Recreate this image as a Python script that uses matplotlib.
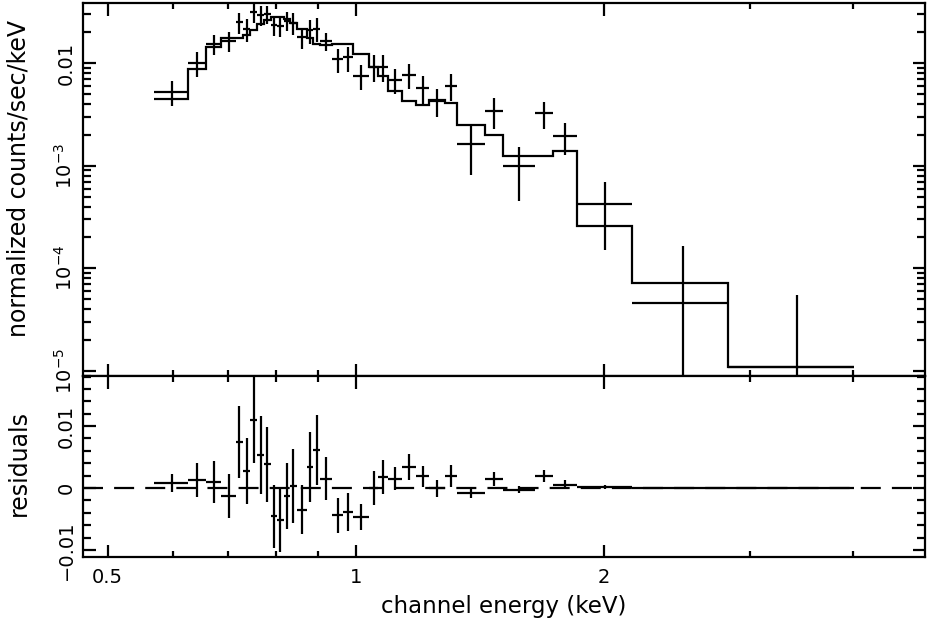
# XSPEC style spectrum: data + folded model (top) and residuals (bottom)

import numpy as np
import matplotlib
matplotlib.use("Agg")
import matplotlib.pyplot as plt
from matplotlib.ticker import FixedLocator, NullFormatter, MultipleLocator, LogLocator

# Channel bin edges (keV)
edges = [0.5690, 0.6266, 0.6580, 0.6861, 0.7154, 0.7295, 0.7445, 0.7592, 0.7735,
         0.7881, 0.8028, 0.8173, 0.8311, 0.8474, 0.8729, 0.8877, 0.9045, 0.9360,
         0.9652, 0.9925, 1.0378, 1.0642, 1.0943, 1.1360, 1.1822, 1.2270, 1.2820,
         1.3245, 1.4334, 1.5060, 1.6467, 1.7344, 1.8516, 2.1585, 2.8266, 4.0181]

# normalized counts/sec/keV
counts = [0.00528, 0.01014, 0.01533, 0.0165, 0.0251, 0.0215, 0.0319, 0.0296, 0.0303,
          0.0235, 0.0231, 0.0260, 0.0249, 0.0179, 0.0211, 0.0217, 0.0165, 0.0109,
          0.0114, 0.00752, 0.00927, 0.00927, 0.00687, 0.00769, 0.00578, 0.00432,
          0.00605, 0.00163, 0.00342, 0.000995, 0.00325, 0.00195, 0.000424,
          4.62e-5, 1.10e-5]

counts_err = [0.00144, 0.00273, 0.00342, 0.00355, 0.00578, 0.00532, 0.00694, 0.00629,
              0.0061, 0.00516, 0.00517, 0.00533, 0.00595, 0.00397, 0.0056, 0.00567,
              0.00343, 0.00282, 0.00312, 0.00207, 0.0027, 0.0027, 0.00185, 0.00207,
              0.00174, 0.00133, 0.00174, 0.00082, 0.00116, 0.000544, 0.00098,
              0.00067, 0.000274, 0.000119, 4.4e-5]

model = [0.00446, 0.00880, 0.01433, 0.0178, 0.0177, 0.0188, 0.0209, 0.0242, 0.0265,
         0.0281, 0.0283, 0.0273, 0.0246, 0.0214, 0.0177, 0.0155, 0.0150, 0.0153,
         0.0153, 0.0122, 0.0093, 0.0075, 0.0054, 0.0043, 0.0039, 0.0044, 0.0041,
         0.0025, 0.0020, 0.00125, 0.00125, 0.0014, 0.00026, 7.24e-5, 1.10e-5]

edges = np.array(edges)
counts = np.array(counts)
counts_err = np.array(counts_err)
model = np.array(model)

lo = edges[:-1]
hi = edges[1:]
energy = (lo + hi) / 2
xerr = [energy - lo, hi - energy]
resid = counts - model

# error bars that go below zero are clipped on the log axis
err_low = np.minimum(counts_err, counts - 1e-9)

fig = plt.figure(figsize=(9.28, 6.25), dpi=100)
ax1 = fig.add_axes([0.0894, 0.3984, 0.9073, 0.5973])
ax2 = fig.add_axes([0.0894, 0.1093, 0.9073, 0.2891], sharex=ax1)

lw = 1.6

# Top panel
ax1.errorbar(energy, counts, xerr=xerr, yerr=[err_low, counts_err],
             fmt="none", ecolor="black", elinewidth=lw, capsize=0)
ax1.stairs(model, edges, baseline=None, color="black", linewidth=lw)
ax1.set_xscale("log")
ax1.set_yscale("log")
ax1.set_xlim(0.4668, 4.894)
ax1.set_ylim(8.9e-6, 0.039)

ax1.set_yticks([1e-5, 1e-4, 1e-3, 1e-2],
               [r"$10^{-5}$", r"$10^{-4}$", r"$10^{-3}$", "0.01"],
               rotation=90, va="center")
ax1.yaxis.set_minor_locator(LogLocator(base=10, subs=np.arange(2, 10)))
ax1.yaxis.set_minor_formatter(NullFormatter())
ax1.set_ylabel("normalized counts/sec/keV", fontsize=17)
ax1.yaxis.set_label_coords(-0.062, 0.53)

# Bottom panel
ax2.errorbar(energy, resid, xerr=xerr, yerr=counts_err,
             fmt="none", ecolor="black", elinewidth=lw, capsize=0)
ax2.axhline(0, color="black", linewidth=lw, linestyle=(0, (9, 5)))
ax2.set_ylim(-0.0111, 0.0181)
ax2.set_yticks([-0.01, 0, 0.01], ["\u22120.01", "0", "0.01"], rotation=90, va="center")
ax2.yaxis.set_minor_locator(MultipleLocator(0.002))
ax2.set_ylabel("residuals", fontsize=17)
ax2.yaxis.set_label_coords(-0.062, 0.52)

ax2.set_xticks([0.5, 1, 2], ["0.5", "1", "2"])
ax2.xaxis.set_minor_locator(FixedLocator([0.6, 0.7, 0.8, 0.9, 3, 4]))
ax2.xaxis.set_minor_formatter(NullFormatter())
ax2.set_xlabel("channel energy (keV)", fontsize=16.5, labelpad=6)

for ax in (ax1, ax2):
    for s in ax.spines.values():
        s.set_linewidth(lw)
    ax.tick_params(which="both", direction="in", top=True, right=True,
                   width=lw, labelsize=14, colors="black")
    ax.tick_params(which="major", length=9)
    ax.tick_params(axis="y", which="minor", length=5.5)
    ax.tick_params(axis="x", which="minor", length=4.5)
    ax.tick_params(axis="y", pad=5)
    ax.tick_params(axis="x", pad=8)

ax1.tick_params(labelbottom=False)

plt.savefig("out.png", dpi=100)
